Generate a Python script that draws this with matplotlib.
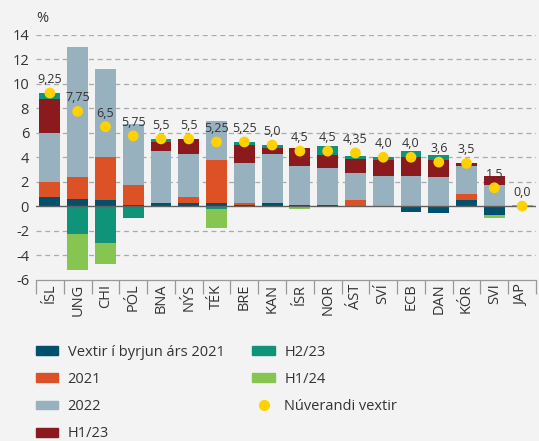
import matplotlib
matplotlib.use("Agg")
import matplotlib.pyplot as plt
import numpy as np
from matplotlib.patches import Patch
from matplotlib.lines import Line2D

plt.rcParams['font.family'] = ['Open Sans', 'DejaVu Sans']

categories = ["ÍSL", "UNG", "CHI", "PÓL", "BNA", "NÝS", "TÉK", "BRE", "KAN",
              "ÍSR", "NOR", "ÁST", "SVÍ", "ECB", "DAN", "KÓR", "SVI", "JAP"]

start_2021 = [0.75, 0.6, 0.5, 0.1, 0.25, 0.25, 0.25, 0.1, 0.25, 0.1, 0.1, 0.0, 0.0, -0.5, -0.6, 0.5, -0.75, -0.1]
chg_2021 = [1.25, 1.8, 3.5, 1.65, 0.0, 0.5, 3.5, 0.15, 0.0, 0.0, 0.0, 0.5, 0.0, 0.0, 0.0, 0.5, 0.0, 0.0]
chg_2022 = [4.0, 10.6, 7.25, 5.0, 4.25, 3.5, 3.25, 3.25, 4.0, 3.15, 3.05, 2.25, 2.5, 2.5, 2.35, 2.25, 1.75, 0.0]
chg_h1_23 = [2.75, 0.0, 0.0, 0.0, 0.75, 1.25, 0.0, 1.5, 0.5, 1.5, 1.0, 1.1, 1.25, 1.5, 1.4, 0.25, 0.75, 0.0]
chg_h2_23 = [0.5, -2.25, -3.0, -1.0, 0.25, 0.0, -0.25, 0.25, 0.25, 0.0, 0.75, 0.25, 0.25, 0.5, 0.45, 0.0, 0.0, 0.0]
chg_h1_24 = [0.0, -3.0, -1.75, 0.0, 0.0, 0.0, -1.5, 0.0, 0.0, -0.25, 0.0, 0.0, 0.0, 0.0, 0.0, 0.0, -0.25, 0.1]
current = [9.25, 7.75, 6.5, 5.75, 5.5, 5.5, 5.25, 5.25, 5.0, 4.5, 4.5, 4.35, 4.0, 4.0, 3.6, 3.5, 1.5, 0.0]
current_labels = ["9,25", "7,75", "6,5", "5,75", "5,5", "5,5", "5,25", "5,25", "5,0",
                  "4,5", "4,5", "4,35", "4,0", "4,0", "3,6", "3,5", "1,5", "0,0"]

series = [start_2021, chg_2021, chg_2022, chg_h1_23, chg_h2_23, chg_h1_24]
names = ["Vextir í byrjun árs 2021", "2021", "2022", "H1/23", "H2/23", "H1/24"]
colors = ["#00506e", "#dc5126", "#97b1bf", "#8b1a1f", "#0f9479", "#86c552"]

bg = "#f3f3f3"
txt = "#333333"
fig = plt.figure(figsize=(5.39, 4.41), dpi=100, facecolor=bg)
ax = fig.add_axes([36/539, 1 - 279.5/441, 500/539, (279.5 - 35)/441], facecolor=bg)

x = np.arange(len(categories))
pos_base = np.zeros(len(categories))
neg_base = np.zeros(len(categories))
for vals, c in zip(series, colors):
    v = np.array(vals, dtype=float)
    bottoms = np.where(v >= 0, pos_base, neg_base)
    ax.bar(x, v, bottom=bottoms, width=0.75, color=c, zorder=3)
    pos_base = pos_base + np.where(v > 0, v, 0)
    neg_base = neg_base + np.where(v < 0, v, 0)

ax.scatter(x, current, s=60, color="#ffd100", zorder=5, edgecolors="none")
for xi, yi, lab in zip(x, current, current_labels):
    ax.annotate(lab, (xi, yi), xytext=(0, 5), textcoords="offset points",
                ha="center", va="bottom", fontsize=9, color=txt, zorder=6)

ax.set_xlim(-0.5, len(categories) - 0.5)
ax.set_ylim(-6, 14)
ax.set_yticks(np.arange(-6, 15, 2))
ax.set_yticklabels([str(v) for v in range(-6, 15, 2)], fontsize=10.5, color=txt)
for yv in range(-4, 15, 2):
    if yv != 0:
        ax.axhline(yv, color="#aaaaaa", lw=0.9, ls=(0, (4, 3)), zorder=1)
ax.axhline(0, color="#606060", lw=1.0, zorder=4)

ax.set_xticks(x)
ax.set_xticklabels(categories, rotation=90, fontsize=10.5, color=txt)
ax.set_xticks(np.arange(-0.5, len(categories), 1), minor=True)
ax.tick_params(axis="x", which="major", length=0, pad=3)
ax.tick_params(axis="x", which="minor", length=10, color="#999999", width=0.9)
ax.tick_params(axis="y", length=0, pad=5)
for s in ["left", "right", "top"]:
    ax.spines[s].set_visible(False)
ax.spines["bottom"].set_color("#999999")
ax.spines["bottom"].set_linewidth(0.9)

fig.text(42/539, 1 - 18/441, "%", fontsize=10.5, color=txt, ha="center", va="center")

handles = [Patch(color=c) for c in colors[:4]] + [Patch(color=c) for c in colors[4:]] + \
          [Line2D([], [], marker="o", ls="none", color="#ffd100", markersize=7)]
labels = names[:4] + names[4:] + ["Núverandi vextir"]
leg = fig.legend(handles, labels, ncol=2, loc="upper left", bbox_to_anchor=(24/539, 1 - 333/441),
                 frameon=False, fontsize=10.5, handlelength=1.55, handleheight=0.55,
                 labelspacing=0.84, columnspacing=1.9, handletextpad=0.65, borderpad=0.3)
for t in leg.get_texts():
    t.set_color(txt)

fig.savefig("out.png", dpi=100, facecolor=bg)
